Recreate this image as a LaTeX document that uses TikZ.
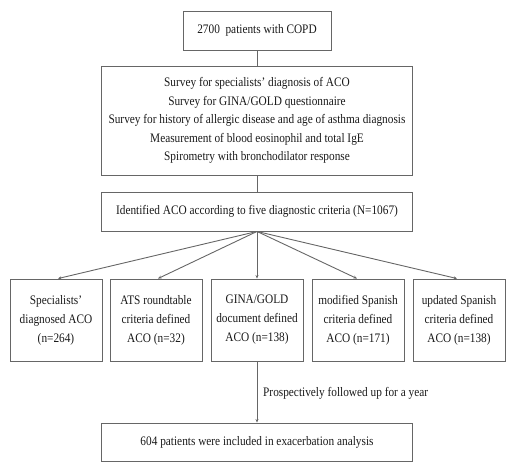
\documentclass[tikz,border=0pt]{standalone}
\usepackage{fontspec}
\setmainfont[FakeStretch=0.87]{Liberation Serif}
\usetikzlibrary{arrows.meta}
\begin{document}
\begin{tikzpicture}[x=1pt,y=-1pt,
  box/.style={draw=black!60, line width=0.9pt, align=center, inner sep=0pt, font=\fontsize{13}{18.5}\selectfont, text=black!90},
  small/.style={box, minimum width=92pt, minimum height=82pt, font=\fontsize{13}{19}\selectfont},
  conn/.style={draw=black!60, line width=0.9pt},
  arr/.style={conn, -{Stealth[length=3.5pt,width=3pt]}}]
\useasboundingbox (0,0) rectangle (517,471);
\node[box, minimum width=148pt, minimum height=39pt] (top) at (257,30.5) {2700\ \ patients with COPD};
\node[box, minimum width=311pt, minimum height=109pt] (survey) at (257,120.5) {Survey for specialists’ diagnosis of ACO\\Survey for GINA/GOLD questionnaire\\Survey for history of allergic disease and age of asthma diagnosis\\Measurement of blood eosinophil and total IgE\\Spirometry with bronchodilator response};
\node[box, minimum width=311pt, minimum height=39pt] (ident) at (257,211.5) {Identified ACO according to five diagnostic criteria (N=1067)};
\node[small] (a) at (56,320) {Specialists’\\diagnosed ACO\\(n=264)};
\node[small] (b) at (156,320) {ATS roundtable\\criteria defined\\ACO (n=32)};
\node[small] (c) at (257,320) {GINA/GOLD\\document defined\\ACO (n=138)};
\node[small] (d) at (358,320) {modified Spanish\\criteria defined\\ACO (n=171)};
\node[small] (e) at (459,320) {updated Spanish\\criteria defined\\ACO (n=138)};
\node[box, minimum width=311pt, minimum height=38pt] (final) at (257,442) {604 patients were included in exacerbation analysis};
\draw[conn] (top.south) -- (survey.north);
\draw[conn] (survey.south) -- (ident.north);
\coordinate (fan) at (ident.south);
\draw[arr] (fan) -- ([xshift=2pt]a.north);
\draw[arr] (fan) -- ([xshift=2pt]b.north);
\draw[arr] (fan) -- (c.north);
\draw[arr] (fan) -- ([xshift=-1pt]d.north);
\draw[arr] (fan) -- ([xshift=-2pt]e.north);
\draw[arr] (c.south) -- (final.north);
\node[anchor=west, inner sep=0pt, font=\fontsize{13}{15}\selectfont, text=black!90] (lbl) at (263,393) {Prospectively followed up for a year};
\end{tikzpicture}
\end{document}
